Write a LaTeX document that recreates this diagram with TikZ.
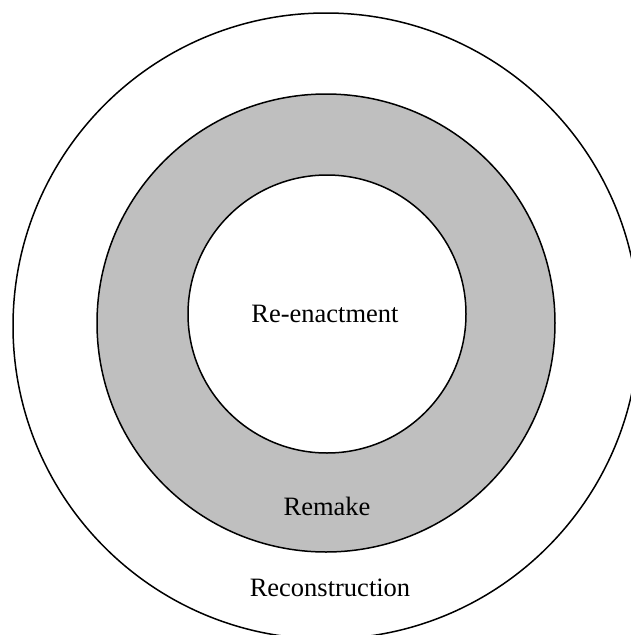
\documentclass[tikz,border=0pt]{standalone}
\usepackage{fontspec}
\setmainfont{Liberation Serif}
\definecolor{ringgray}{RGB}{191,191,191}
\begin{document}
\begin{tikzpicture}[
          x=1pt, y=-1pt,
          ring/.style={draw=black, line width=1.5pt},
          label/.style={anchor=base, inner sep=0pt, font=\fontsize{26.5}{30}\selectfont}
        ]
        \useasboundingbox (0,0) rectangle (630,635);

        % Rings, outer to inner
        \draw[ring, fill=white] (326,326) circle (313);
        \draw[ring, fill=ringgray] (326,323) circle (229);
        \draw[ring, fill=white] (327,314) circle (139);

        % Ring labels
        \node[label] (reenact) at (325,322) {Re-enactment};
        \node[label] (remake) at (327,515) {Remake};
        \node[label] (recon) at (330,596) {Reconstruction};

      \end{tikzpicture}
\end{document}
